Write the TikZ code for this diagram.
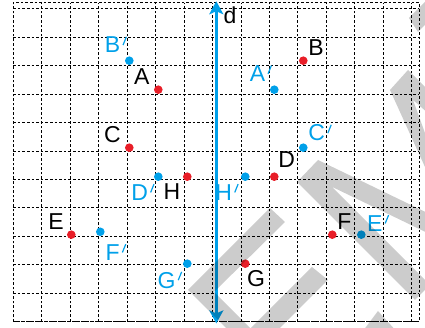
\documentclass[tikz,border=0pt]{standalone}
\usepackage{fontspec}
\setmainfont{Liberation Sans}
\usetikzlibrary{arrows.meta}
\definecolor{pblue}{RGB}{0,160,233}
\definecolor{pred}{RGB}{232,30,40}
\newcommand{\prm}{\kern2.2pt\raisebox{7.5pt}{\rotatebox[origin=c]{-22}{\rule{1.2pt}{9pt}}}}
\begin{document}
\begin{tikzpicture}[x=29pt,y=29pt,
  gridline/.style={black,line width=0.8pt,dash pattern=on 2.6pt off 2pt},
  rdot/.style={circle,fill=pred,inner sep=0pt,minimum size=8.6pt},
  bdot/.style={circle,fill=pblue,inner sep=0pt,minimum size=8.6pt},
  lblk/.style={inner sep=0pt,font=\fontsize{23}{27}\selectfont,text=black},
  lblb/.style={inner sep=0pt,font=\fontsize{23}{27}\selectfont,text=pblue},
  axis/.style={pblue,line width=2.6pt,{Stealth[length=13pt,width=14pt,inset=3pt]}-{Stealth[length=13pt,width=14pt,inset=3pt]}},
  wmark/.style={fill=black,fill opacity=0.2}]
\useasboundingbox (-0.4586,-0.2172) rectangle (14.197,11.093);
% grid
\draw[gridline] (0,0) grid (14,11);
\draw[gridline] (0,0) rectangle (14,11);
% axis
\coordinate (dbot) at (7,-0.06);
\coordinate (dtop) at (7,11.05);
\draw[axis] (dbot) -- (dtop);
\node[lblk] (ld) at (7.47,10.58) {d};
% original points
\node[rdot] (A) at (5,8) {};
\node[rdot] (B) at (10,9) {};
\node[rdot] (C) at (4,6) {};
\node[rdot] (D) at (9,5) {};
\node[rdot] (E) at (2,3) {};
\node[rdot] (F) at (11,3) {};
\node[rdot] (G) at (8,2) {};
\node[rdot] (H) at (6,5) {};
% images
\node[bdot] (A') at (9,8) {};
\node[bdot] (B') at (4,9) {};
\node[bdot] (C') at (10,6) {};
\node[bdot] (D') at (5,5) {};
\node[bdot] (E') at (12,3) {};
\node[bdot] (F') at (3,3.1) {};
\node[bdot] (G') at (6,2) {};
\node[bdot] (H') at (8,5) {};
% labels
\node[lblk] (lA) at (4.43,8.45) {A};
\node[lblk] (lB) at (10.44,9.44) {B};
\node[lblk] (lC) at (3.42,6.44) {C};
\node[lblk] (lD) at (9.43,5.58) {D};
\node[lblk] (lE) at (1.47,3.44) {E};
\node[lblk] (lF) at (11.42,3.44) {F};
\node[lblk] (lG) at (8.37,1.47) {G};
\node[lblk] (lH) at (5.47,4.47) {H};
\node[lblb] (lA') at (8.54,8.56) {A\prm};
\node[lblb] (lB') at (3.54,9.55) {B\prm};
\node[lblb] (lC') at (10.58,6.51) {C\prm};
\node[lblb] (lD') at (4.47,4.47) {D\prm};
\node[lblb] (lE') at (12.58,3.40) {E\prm};
\node[lblb] (lF') at (3.54,2.40) {F\prm};
\node[lblb] (lG') at (5.40,1.44) {G\prm};
\node[lblb] (lH') at (7.37,4.47) {H\prm};
% watermark
\begin{scope}
\clip (-0.4586,-0.2172) rectangle (14.197,11.093);
\begin{scope}[x=1pt,y=-1pt,shift={(-13.3pt,321.7pt)}]
\fill[wmark] (297,182) -- (318,160) -- (440,219) -- (440,239) -- (331.7,186.7) -- (430,285) -- (415,300) -- cycle;
\fill[wmark] (390,90) -- (408,70) -- (445,107) -- (445,128) -- (413,100) -- (445,188) -- (445,211) -- cycle;
\fill[wmark] (188,290) -- (270,208) -- (285,222) -- (214,292) -- (262,340) -- (238,340) -- cycle;
\fill[wmark] (312,267) -- (328,280) -- (268,340) -- (239,340) -- cycle;
\fill[wmark] (360,335) -- (378,311) -- (398,333) -- cycle;
\fill[wmark] (409,18) -- (430,-3) -- (440,10) -- (418,32) -- cycle;
\end{scope}
\end{scope}
\end{tikzpicture}
\end{document}
